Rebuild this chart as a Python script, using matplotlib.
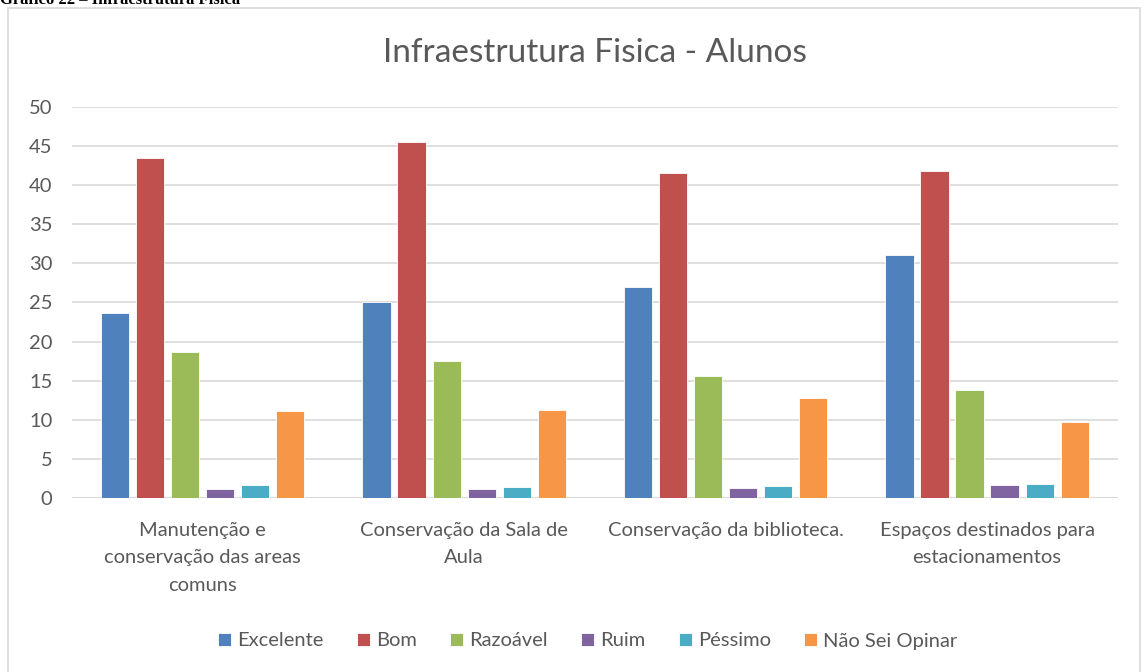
import matplotlib.pyplot as plt
import numpy as np
from matplotlib.patches import Rectangle

# categories and values
categories = ['Manutenção e\nconservação das areas\ncomuns',
              'Conservação da Sala de\nAula',
              'Conservação da biblioteca.',
              'Espaços destinados para\nestacionamentos']
series = ['Excelente', 'Bom', 'Razoável', 'Ruim', 'Péssimo', 'Não Sei Opinar']
excelente = [23.6, 25.0, 27.0, 31.1]
bom = [43.5, 45.5, 41.5, 41.8]
razoavel = [18.7, 17.5, 15.6, 13.8]
ruim = [1.2, 1.2, 1.3, 1.6]
pessimo = [1.6, 1.4, 1.5, 1.8]
nao_sei = [11.1, 11.2, 12.8, 9.7]
colors = ['#4F81BD', '#C0504D', '#9BBB59', '#8064A2', '#4BACC6', '#F79646']

values = [excelente, bom, razoavel, ruim, pessimo, nao_sei]

plt.rcParams['font.family'] = ['Lato', 'DejaVu Sans']

fig = plt.figure(figsize=(11.48, 6.72), dpi=100)
ax = fig.add_axes([0.0627, 0.259, 0.911, 0.582])

# outer border of the chart box
fig.patches.append(Rectangle((8 / 1148, -0.05), 1132 / 1148, 1.05 - 8 / 672,
                             transform=fig.transFigure, fill=False,
                             edgecolor='#D9D9D9', linewidth=1.2))

# caption cut off at the top of the page
fig.text(0.0, 1 - 4 / 672, 'Gráfico 22 – Infraestrutura Física',
         family='Liberation Serif', fontweight='bold', fontsize=12,
         va='baseline', ha='left')

x = np.arange(len(categories))
step = 0.134
width = 0.108
for i, (name, vals) in enumerate(zip(series, values)):
    ax.bar(x + (i - 2.5) * step, vals, width, color=colors[i], label=name,
           edgecolor='white', linewidth=0.6, zorder=3)

ax.set_xlim(-0.5, len(categories) - 0.5)
ax.set_ylim(0, 50)
ax.set_yticks(range(0, 51, 5))
ax.grid(axis='y', color='#D9D9D9', linewidth=1.2, zorder=0)
for s in ax.spines.values():
    s.set_visible(False)
ax.axhline(0, color='#D9D9D9', linewidth=1.5, zorder=2)
ax.tick_params(length=0, labelsize=14.5, labelcolor='#595959')
ax.tick_params(axis='y', pad=14)
ax.set_xticks(x)
ax.set_xticklabels(categories, linespacing=1.75)
ax.tick_params(axis='x', pad=17)

ax.set_title('Infraestrutura Fisica - Alunos', fontsize=24, color='#595959', pad=32)

fig.legend(loc='center', bbox_to_anchor=(0.512, 1 - 641 / 672), ncol=6,
           frameon=False, fontsize=14.5, labelcolor='#595959',
           handlelength=0.65, handleheight=0.65, handletextpad=0.3,
           columnspacing=1.65)

fig.savefig('out.png', dpi=100)
